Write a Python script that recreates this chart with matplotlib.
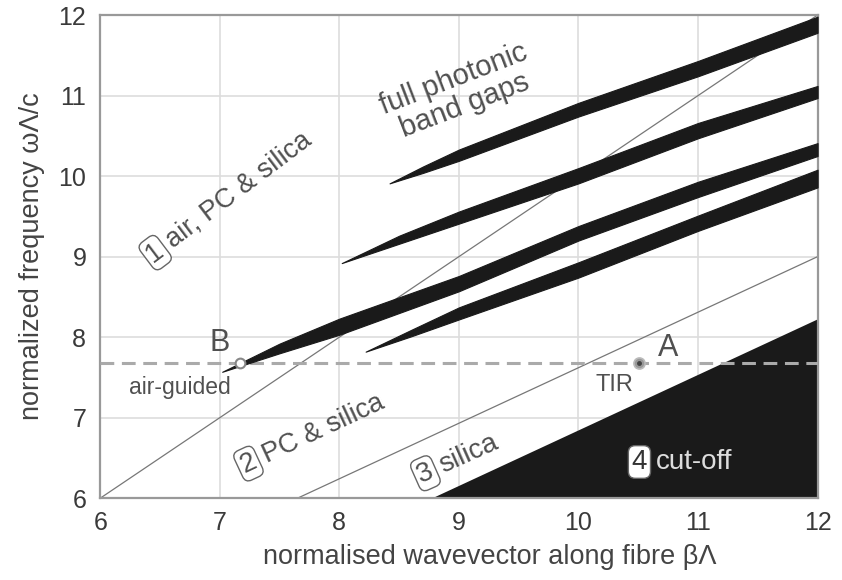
import numpy as np
import matplotlib
matplotlib.use("Agg")
from matplotlib import pyplot as plt

plt.rcParams['font.family'] = ['Liberation Sans', 'DejaVu Sans']

# light lines (beta, omega)
air_beta = [6.0, 12.0]
air_omega = [6.0, 12.0]
pc_beta = [7.65, 12.0]
pc_omega = [6.0, 9.0]
cut_beta = [8.78, 12.0]
cut_omega = [6.0, 8.22]

# band gaps: beta, lower edge, upper edge
band1_beta = [8.42, 8.7, 9.0, 10.0, 11.0, 12.0]
band1_lo = [9.91, 10.04, 10.19, 10.74, 11.24, 11.78]
band1_hi = [9.91, 10.12, 10.33, 10.91, 11.43, 11.98]

band2_beta = [8.02, 8.5, 9.0, 10.0, 11.0, 12.0]
band2_lo = [8.92, 9.16, 9.41, 9.91, 10.47, 10.97]
band2_hi = [8.92, 9.26, 9.56, 10.10, 10.66, 11.12]

band3_beta = [7.02, 7.5, 8.0, 9.0, 10.0, 11.0, 12.0]
band3_lo = [7.57, 7.80, 8.03, 8.57, 9.20, 9.74, 10.25]
band3_hi = [7.57, 7.92, 8.23, 8.76, 9.38, 9.93, 10.41]

band4_beta = [8.22, 8.6, 9.0, 10.0, 11.0, 12.0]
band4_lo = [7.82, 8.01, 8.22, 8.74, 9.32, 9.86]
band4_hi = [7.82, 8.09, 8.37, 8.93, 9.51, 10.08]

omega_line = 7.68
point_b = (7.17, 7.68)
point_a = (10.51, 7.68)

text_c = '#505050'
band_c = '#1a1a1a'

fig = plt.figure(figsize=(8.42, 5.8), dpi=100)
ax = fig.add_axes([0.119, 0.141, 0.852, 0.833])
ax.set_xlim(6, 12)
ax.set_ylim(6, 12)

ax.grid(True, color='#dddddd', lw=1.2, zorder=0)
ax.set_axisbelow(True)
for s in ax.spines.values():
    s.set_color('#999999')
    s.set_linewidth(1.6)
ax.tick_params(length=0, labelsize=18, labelcolor='#3a3a3a')
ax.tick_params(axis='x', pad=9)
ax.tick_params(axis='y', pad=10)
ax.set_xticks(range(6, 13))
ax.set_yticks(range(6, 13))

# cut-off region
ax.fill(cut_beta + [12.0], cut_omega + [6.0], color=band_c, lw=0, zorder=2)

# light lines
ax.plot(air_beta, air_omega, color='#777777', lw=0.9, zorder=2)
ax.plot(pc_beta, pc_omega, color='#777777', lw=0.9, zorder=2)

# dashed line
ax.plot([6, 12], [omega_line, omega_line], color='#aaaaaa', lw=2.2,
        dashes=(4.5, 2.5), zorder=3)

# band gaps
for b, lo, hi in [(band1_beta, band1_lo, band1_hi), (band2_beta, band2_lo, band2_hi),
                  (band3_beta, band3_lo, band3_hi), (band4_beta, band4_lo, band4_hi)]:
    ax.fill_between(b, lo, hi, color=band_c, lw=0.8, edgecolor=band_c, zorder=4)

# points
ax.plot(*point_b, 'o', ms=7, mfc='white', mec='#888888', mew=1.5, zorder=5)
ax.plot(*point_a, 'o', ms=8, mfc='#999999', mec='#bbbbbb', mew=1.2, zorder=5)
ax.plot(*point_a, 'o', ms=2.5, color='#444444', zorder=6)

ax.text(7.0, 7.93, 'B', fontsize=22, color=text_c, ha='center', va='center', zorder=6)
ax.text(10.75, 7.86, 'A', fontsize=22, color=text_c, ha='center', va='center', zorder=6)
ax.text(6.67, 7.37, 'air-guided', fontsize=16.5, color=text_c, ha='center', va='center', zorder=6)
ax.text(10.3, 7.4, 'TIR', fontsize=17, color=text_c, ha='center', va='center', zorder=6)


def region_label(num, label, x, y, rot, fs=19.5, fc='white', tc=text_c, nc=text_c):
    box = dict(boxstyle='round,pad=0.12,rounding_size=0.25', fc=fc, ec='#666666', lw=1.0)
    ax.text(x, y, num, fontsize=fs, color=nc, rotation=rot, rotation_mode='anchor',
            ha='center', va='center', bbox=box, zorder=6)
    d = 12
    dx = d * np.cos(np.radians(rot))
    dy = d * np.sin(np.radians(rot))
    ax.annotate(label, xy=(x, y), xytext=(dx, dy), textcoords='offset points',
                fontsize=fs, color=tc, rotation=rot, rotation_mode='anchor',
                ha='left', va='center', zorder=6)


region_label('1', 'air, PC & silica', 6.46, 9.05, 37)
region_label('2', 'PC & silica', 7.24, 6.43, 25)
region_label('3', 'silica', 8.72, 6.31, 24, fs=20)
region_label('4', 'cut-off', 10.51, 6.45, 0, fs=20, fc='white', tc='#dddddd', nc='#333333')

ax.text(9.0, 11.04, 'full photonic\nband gaps', fontsize=21, color=text_c,
        rotation=21, ha='center', va='center', linespacing=1.05, zorder=6)

ax.set_xlabel('normalised wavevector along fibre βΛ', fontsize=19.5, color='#444444')
ax.xaxis.set_label_coords(0.543, -0.095)
ax.set_ylabel('normalized frequency ωΛ/c', fontsize=19.5, color='#444444', labelpad=10)

fig.savefig('out.png', dpi=100)
